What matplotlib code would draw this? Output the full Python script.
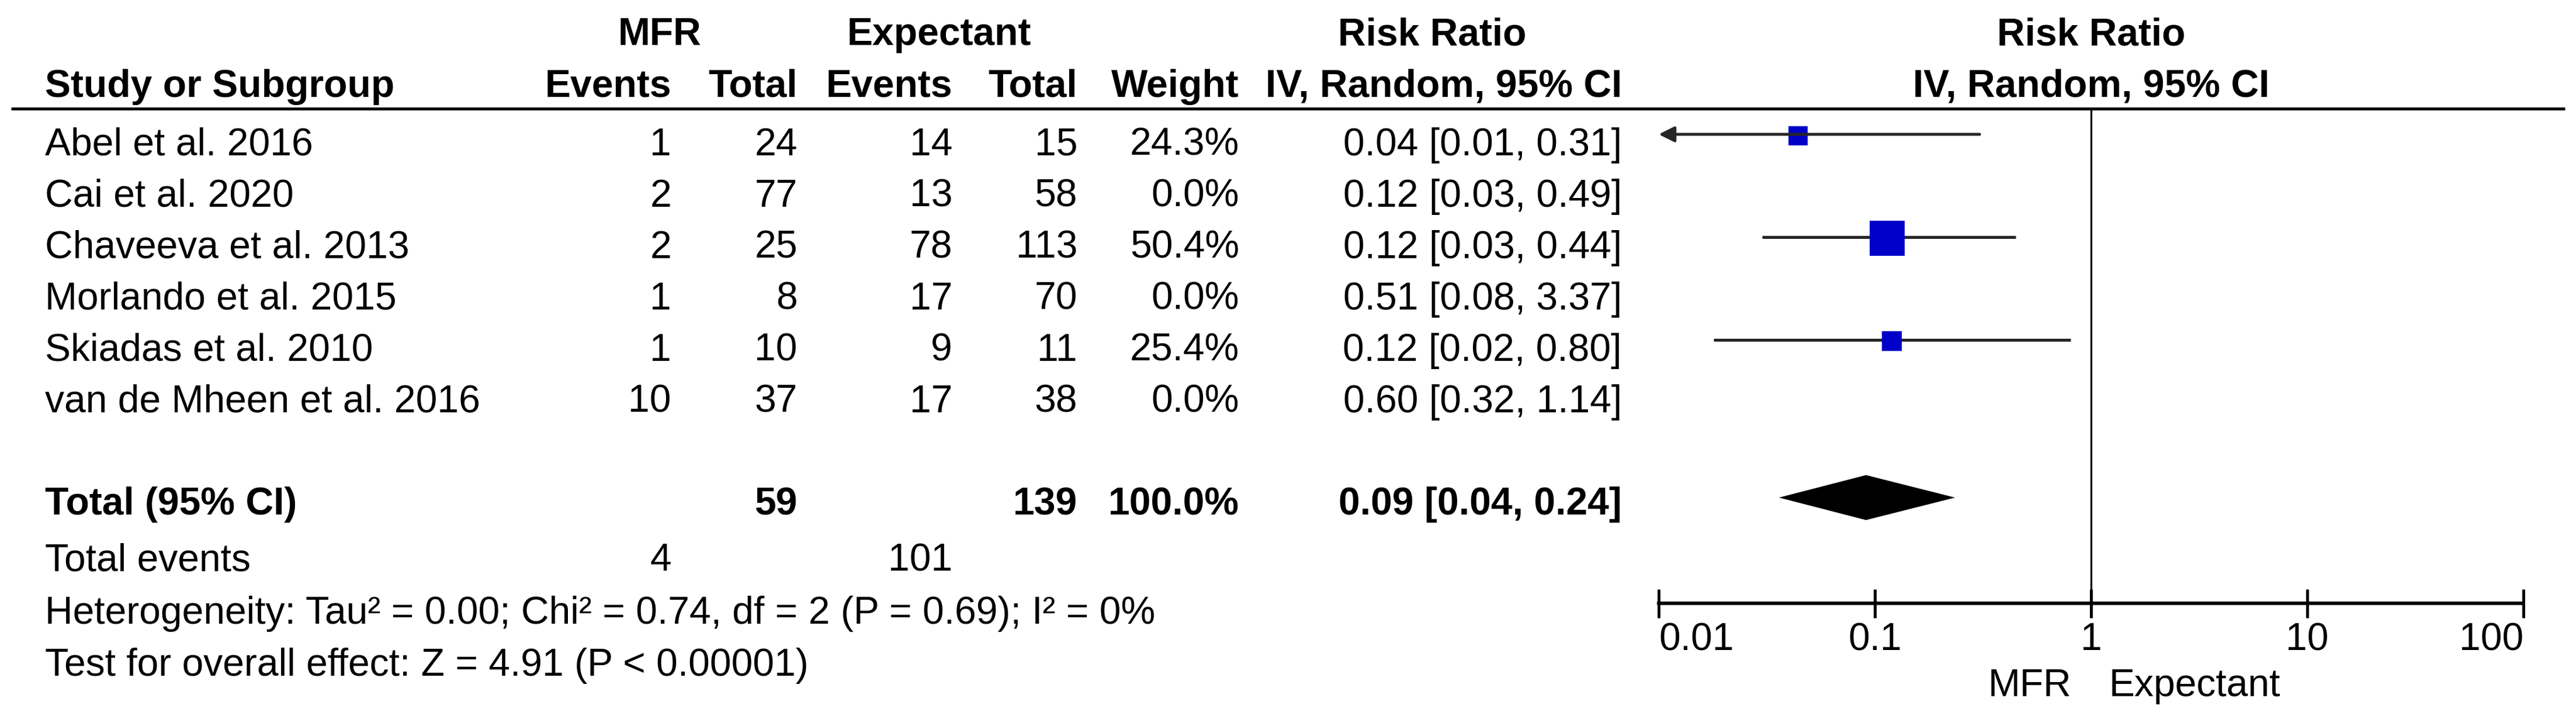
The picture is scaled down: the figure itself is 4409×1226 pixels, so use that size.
import numpy as np
import matplotlib
matplotlib.use("Agg")
import matplotlib.pyplot as plt
from matplotlib.ticker import NullLocator

plt.rcParams['font.family'] = ['Liberation Sans', 'DejaVu Sans']

# ---- data ----
studies = ["Abel et al. 2016", "Cai et al. 2020", "Chaveeva et al. 2013",
           "Morlando et al. 2015", "Skiadas et al. 2010", "van de Mheen et al. 2016"]
mfr_events = [1, 2, 2, 1, 1, 10]
mfr_total = [24, 77, 25, 8, 10, 37]
exp_events = [14, 13, 78, 17, 9, 17]
exp_total = [15, 58, 113, 70, 11, 38]
weights = [24.3, 0.0, 50.4, 0.0, 25.4, 0.0]
ci_text = ["0.04 [0.01, 0.31]", "0.12 [0.03, 0.49]", "0.12 [0.03, 0.44]",
           "0.51 [0.08, 3.37]", "0.12 [0.02, 0.80]", "0.60 [0.32, 1.14]"]
# plotted estimates (as drawn on the log axis)
rr = [0.044, 0.12, 0.114, 0.51, 0.12, 0.60]
rr_lo = [0.006, 0.03, 0.030, 0.08, 0.018, 0.32]
rr_hi = [0.305, 0.49, 0.448, 3.37, 0.804, 1.14]

total_mfr, total_exp = 59, 139
total_weight = 100.0
pooled = [0.036, 0.091, 0.235]   # lo, est, hi
pooled_text = "0.09 [0.04, 0.24]"
events_mfr, events_exp = 4, 101
het_text = "Heterogeneity: Tau² = 0.00; Chi² = 0.74, df = 2 (P = 0.69); I² = 0%"
test_text = "Test for overall effect: Z = 4.91 (P < 0.00001)"

ticks = [0.01, 0.1, 1, 10, 100]
tick_labels = ["0.01", "0.1", "1", "10", "100"]

# ---- layout (pixels) ----
W, H, DPI = 4409, 1226, 100
PT = 72 / DPI
FS = 47.5
fig = plt.figure(figsize=(W / DPI, H / DPI), dpi=DPI)

tab = fig.add_axes([0, 0, 1, 1])
tab.set_xlim(0, W)
tab.set_ylim(H, 0)
tab.axis('off')

x_study = 77
x_cols = [1149, 1365, 1630, 1844, 2121, 2776]
row0, step = 266, 88
y_total, y_events, y_het, y_test = 881, 977, 1068, 1157


def txt(x, y, s, ha='left', bold=False):
    tab.text(x, y, s, ha=ha, va='baseline', fontsize=FS,
             fontweight='bold' if bold else 'normal', color='black')


# headers
txt(1129, 77, "MFR", 'center', True)
txt(1607, 77, "Expectant", 'center', True)
txt(2451, 77, "Risk Ratio", 'center', True)
txt(3579, 77, "Risk Ratio", 'center', True)
txt(x_study, 166, "Study or Subgroup", bold=True)
for x, s in zip(x_cols, ["Events", "Total", "Events", "Total", "Weight", "IV, Random, 95% CI"]):
    txt(x, 166, s, 'right', True)
txt(3579, 166, "IV, Random, 95% CI", 'center', True)
tab.plot([19, 4390], [185.5, 185.5], color='black', lw=5 * PT, solid_capstyle='butt')

# study rows
for i, name in enumerate(studies):
    y = row0 + i * step
    txt(x_study, y, name)
    vals = [str(mfr_events[i]), str(mfr_total[i]), str(exp_events[i]),
            str(exp_total[i]), f"{weights[i]:.1f}%", ci_text[i]]
    for x, s in zip(x_cols, vals):
        txt(x, y, s, 'right')

# totals
txt(x_study, y_total, "Total (95% CI)", bold=True)
txt(x_cols[1], y_total, str(total_mfr), 'right', True)
txt(x_cols[3], y_total, str(total_exp), 'right', True)
txt(x_cols[4], y_total, f"{total_weight:.1f}%", 'right', True)
txt(x_cols[5], y_total, pooled_text, 'right', True)
txt(x_study, y_events, "Total events")
txt(x_cols[0], y_events, str(events_mfr), 'right')
txt(x_cols[2], y_events, str(events_exp), 'right')
txt(x_study, y_het, het_text)
txt(x_study, y_test, test_text)

# ---- forest plot ----
x0, x1 = 2839, 4319
y_top, y_axis = 185, 1033
ax = fig.add_axes([x0 / W, 1 - y_axis / H, (x1 - x0) / W, (y_axis - y_top) / H])
ax.set_xscale('log')
ax.set_xlim(ticks[0], ticks[-1])
ax.set_ylim(y_axis, y_top)
ax.patch.set_alpha(0)
for side in ['top', 'left', 'right']:
    ax.spines[side].set_visible(False)
ax.spines['bottom'].set_linewidth(6 * PT)
ax.set_yticks([])
ax.set_xticks(ticks)
ax.set_xticklabels([])
ax.xaxis.set_minor_locator(NullLocator())
ax.tick_params(axis='x', direction='inout', length=49 * PT, width=5 * PT, color='black')

for i, t in enumerate(ticks):
    ha = 'left' if i == 0 else ('right' if i == len(ticks) - 1 else 'center')
    ax.text(t, 1113, tick_labels[i], ha=ha, va='baseline', fontsize=FS, clip_on=False)

ax.axvline(1, color='black', lw=2.3)

line_col = '#262626'
box_col = '#0000C8'
for i in range(len(studies)):
    if weights[i] <= 0:
        continue
    y = row0 + i * step - 36
    lo = max(rr_lo[i], ticks[0])
    if rr_lo[i] < ticks[0]:
        ax.annotate('', xy=(lo, y), xytext=(rr_hi[i], y),
                    arrowprops=dict(arrowstyle='-|>,head_length=16,head_width=8',
                                    color=line_col, lw=5 * PT, shrinkA=0, shrinkB=0,
                                    mutation_scale=1))
    else:
        ax.plot([lo, rr_hi[i]], [y, y], color=line_col, lw=5 * PT, solid_capstyle='butt')
    side = 33 * (weights[i] / 24.3) ** 0.8
    ax.plot([rr[i]], [y + 2], marker='s', ms=side * PT, color=box_col, mew=0, ls='none')

yd = y_total - 29
ax.fill([pooled[0], pooled[1], pooled[2], pooled[1]],
        [yd, yd - 38.5, yd, yd + 38.5], color='black', lw=0)

ax.annotate("MFR", xy=(1, 1192), xytext=(-34 * PT, 0), textcoords='offset points',
            ha='right', va='baseline', fontsize=FS, annotation_clip=False)
ax.annotate("Expectant", xy=(1, 1192), xytext=(31 * PT, 0), textcoords='offset points',
            ha='left', va='baseline', fontsize=FS, annotation_clip=False)

fig.savefig('out.png', dpi=DPI)
